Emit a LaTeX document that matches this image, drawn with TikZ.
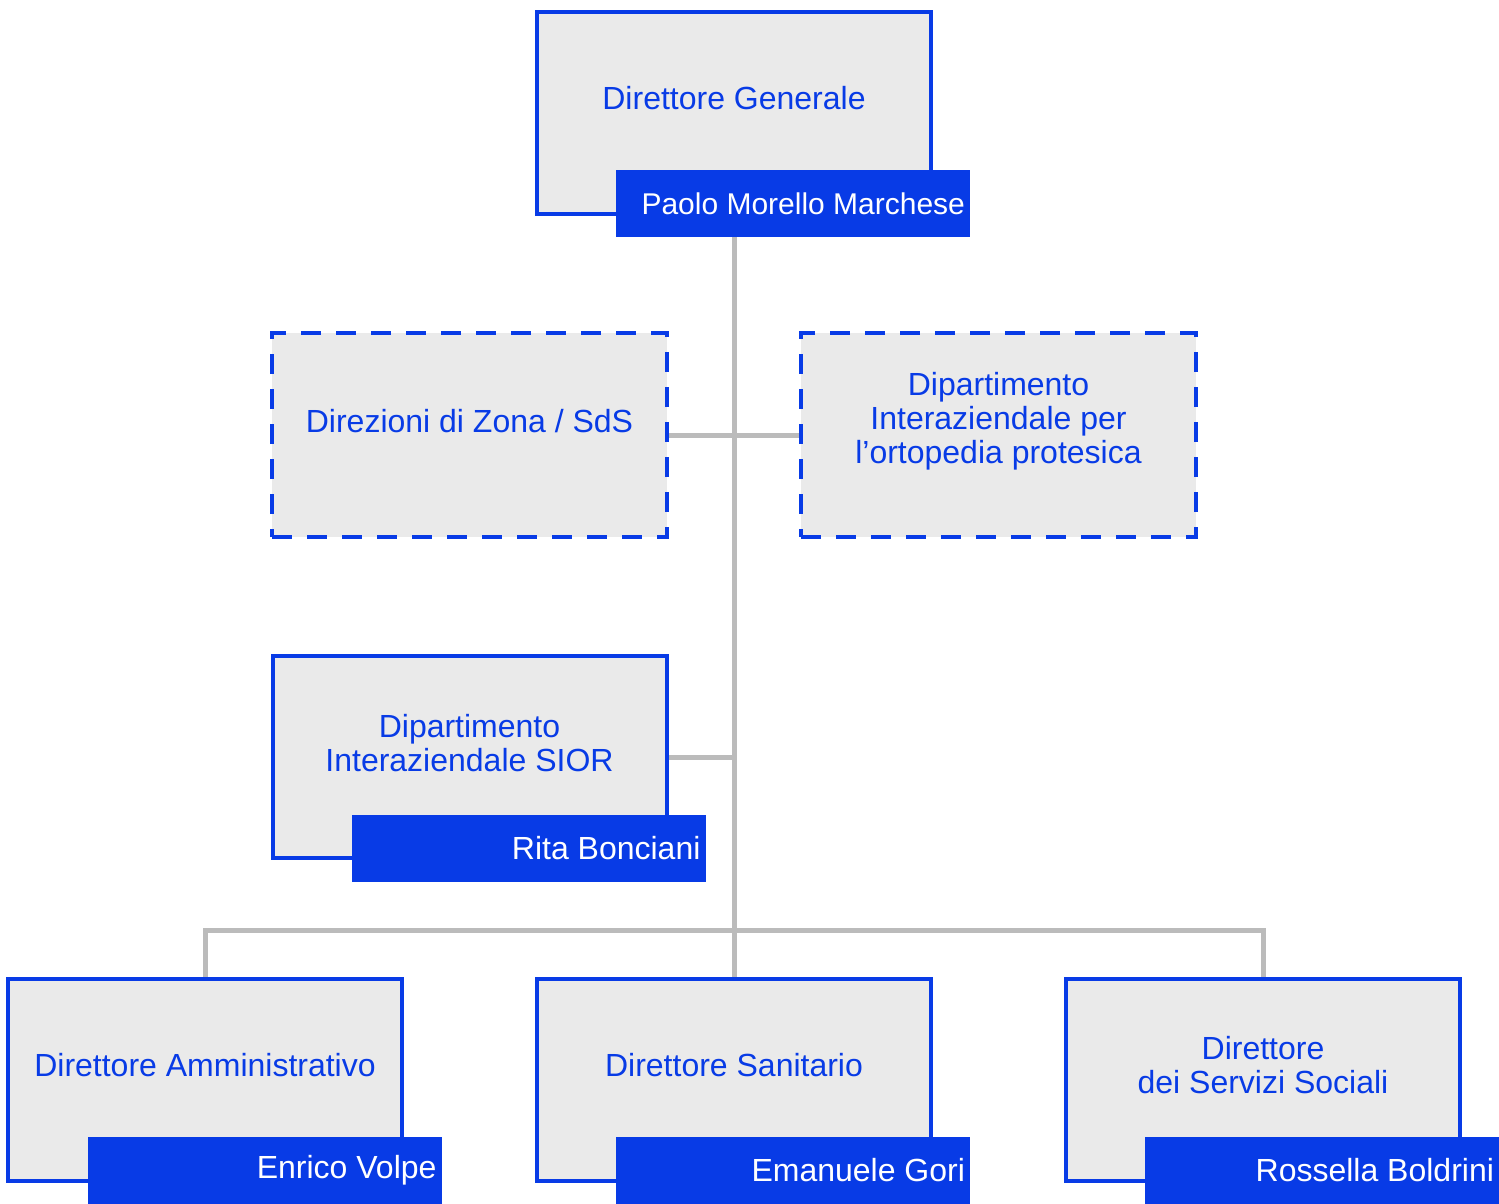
\documentclass[tikz,border=0pt]{standalone}
\usepackage{fontspec}
\setmainfont{Liberation Sans}
\usetikzlibrary{backgrounds}
\definecolor{orgblue}{RGB}{8,59,230}
\definecolor{orgfill}{RGB}{234,234,234}
\definecolor{orggray}{RGB}{187,187,187}
\begin{document}
\begin{tikzpicture}[x=0.5pt,y=-0.5pt]
	\tikzstyle{office}=[rectangle,draw=orgblue,line width=2pt,fill=orgfill,minimum width=197pt,minimum height=101pt,inner sep=0pt,outer sep=0pt]
	\tikzstyle{staff}=[office,minimum width=197.5pt,minimum height=102pt,dash pattern=on 10pt off 7.5pt]
	\tikzstyle{holder}=[rectangle,fill=orgblue,text=white,text width=172pt,align=flush right,inner xsep=2.5pt,inner ysep=0pt,minimum height=33.5pt,font=\fontsize{16}{17}\selectfont]
	\tikzstyle{title}=[text=orgblue,align=center,font=\fontsize{16}{17}\selectfont]
	\tikzstyle{edge}=[draw=orggray,line width=2.5pt]
	\useasboundingbox (0,0) rectangle (1499,1204);
	\begin{scope}
		\node [office] (dg) at (734,113) {};
		\node [title] (dgt) at (734,98) {Direttore Generale};
		\node [holder,font=\fontsize{15}{17}\selectfont] (dgn) at (793,203.5) {Paolo Morello Marchese};
		\node [staff] (zona) at (469.5,435) {};
		\node [title] (zonat) at (469.5,421) {Direzioni di Zona / SdS};
		\node [staff] (orto) at (998.5,435) {};
		\node [title] (ortot) at (998.5,421) {Dipartimento\\Interaziendale per\\l’ortopedia protesica};
		\node [office] (sior) at (469.5,757) {};
		\node [title] (siort) at (469.5,743) {Dipartimento\\Interaziendale SIOR};
		\node [holder] (siorn) at (528.5,848.5) {Rita Bonciani};
		\node [office] (amm) at (205,1079.5) {};
		\node [title] (ammt) at (205,1065) {Direttore Amministrativo};
		\node [holder] (ammn) at (264.5,1170.5) {Enrico Volpe};
		\node [office] (san) at (734,1079.5) {};
		\node [title] (sant) at (734,1065) {Direttore Sanitario};
		\node [holder] (sann) at (793,1170.5) {Emanuele Gori};
		\node [office] (soc) at (1263,1079.5) {};
		\node [title] (soct) at (1263,1065) {Direttore\\dei Servizi Sociali};
		\node [holder] (socn) at (1322,1170.5) {Rossella Boldrini};
		\coordinate (bus) at (734,930);
		\begin{scope}[on background layer]
			\path[edge] (dg.south) -- (san.north);
			\path[edge] (zona.east) -- (orto.west);
			\path[edge] (sior.east) -- (sior.east -| dg.south);
			\path[edge] (amm.north) |- (bus) -| (soc.north);
		\end{scope}
	\end{scope}
\end{tikzpicture}
\end{document}
